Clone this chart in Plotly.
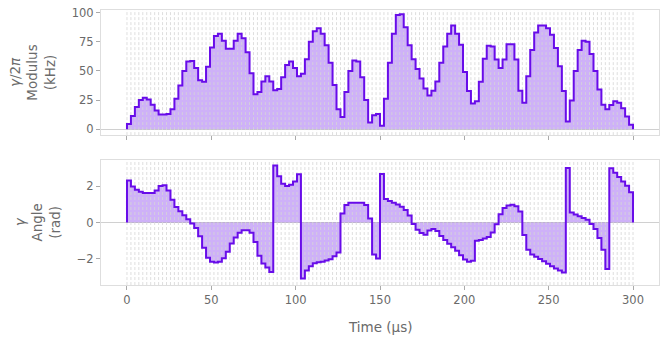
import numpy as np
import plotly.graph_objects as go
from plotly.subplots import make_subplots

duration_us = 300
segment_count = 128

modulus_khz = [
    4.5, 11.4, 19, 25, 27, 25.5, 21, 16, 12.5, 12.5, 13, 17, 26, 37.5, 50, 58,
    58.5, 52.5, 42, 40.6, 53.5, 70, 80, 82, 76, 69, 69, 76, 82, 78, 66, 48,
    30, 32, 41, 45.5, 41, 33.5, 34.5, 44.6, 55, 58, 52.5, 45.5, 47.5, 60, 75, 84,
    86.6, 82, 72, 57, 38, 17, 10.5, 32, 50, 59, 58, 44.6, 25, 5.7, 12, 13,
    3, 26, 57, 82, 98, 98.6, 87.5, 72, 60, 51.7, 43.5, 35, 29, 33, 41, 57,
    71, 82, 89, 82, 72.4, 49, 32.7, 22, 24, 40.6, 60.5, 71.6, 71, 59.7, 52.5, 59.7,
    73, 73, 59.7, 33, 22.7, 45.5, 68, 83, 89, 89, 86.6, 81, 69.6, 54, 32.7, 6.5,
    24.7, 50, 68, 76, 75, 64.5, 50, 34, 21, 17, 20.7, 24, 22.7, 18, 10.8, 3.7,
]

angle_rad = [
    2.31, 1.98, 1.8, 1.69, 1.62, 1.62, 1.62, 1.76, 2.0, 2.05, 1.76, 1.25, 0.85, 0.62, 0.4, 0.18,
    -0.05, -0.3, -0.75, -1.38, -1.93, -2.15, -2.2, -2.15, -1.96, -1.6, -1.15, -0.82, -0.56, -0.42, -0.42, -0.56,
    -1.07, -1.82, -2.25, -2.47, -2.72, 3.13, 2.54, 2.13, 2.01, 2.07, 2.26, 2.65, -3.08, -2.64, -2.4, -2.24,
    -2.18, -2.15, -2.09, -2.02, -1.85, -1.65, 0.5, 0.96, 1.08, 1.08, 1.08, 1.08, 0.96, 0.22, -1.75, -1.98,
    2.66, 1.29, 1.18, 1.09, 0.99, 0.87, 0.69, 0.38, -0.08, -0.4, -0.58, -0.67, -0.44, -0.35, -0.47, -0.74,
    -0.96, -1.16, -1.36, -1.55, -1.8, -2.03, -2.15, -2.1, -1.0, -0.96, -0.88, -0.8, -0.55, -0.1, 0.45, 0.8,
    0.93, 0.98, 0.9, 0.6, -0.69, -1.5, -1.75, -1.88, -2.0, -2.13, -2.27, -2.4, -2.52, -2.63, -2.74, 3.0,
    0.55, 0.44, 0.35, 0.25, 0.15, -0.08, -0.35, -0.85, -1.5, -2.55, 2.98, 2.74, 2.5, 2.25, 2.02, 1.66,
]

x_ticks = [0, 50, 100, 150, 200, 250, 300]
mod_ticks = [0, 25, 50, 75, 100]
ang_ticks = [-2, 0, 2]

LINE = "#680CE9"
FILL = "rgba(104,12,233,0.32)"
GRAY = "#6a6a6a"
FRAME = "#dedede"
GRID = "#d6d6d6"
FONT = "DejaVu Sans"

x_range = [-15.4, 315.4]
mod_range = [-5.1, 102.3]
ang_range = [-3.43, 3.44]

boundaries = np.linspace(0, duration_us, segment_count + 1)


def step_xy(values):
    xs = [0.0] + list(boundaries[:-1]) + [duration_us, duration_us]
    ys = [0.0] + list(values) + [values[-1], 0.0]
    return xs, ys


def grid_xy(yr):
    gx, gy = [], []
    for b in boundaries:
        gx += [b, b, None]
        gy += [yr[0], yr[1], None]
    return gx, gy


fig = make_subplots(rows=2, cols=1, shared_xaxes=False, vertical_spacing=0.0)

for row, vals, yr in ((1, modulus_khz, mod_range), (2, angle_rad, ang_range)):
    xs, ys = step_xy(vals)
    fig.add_trace(go.Scatter(x=xs, y=ys, mode="lines", line=dict(shape="hv", width=0),
                             fill="tozeroy", fillcolor=FILL, hoverinfo="skip", showlegend=False),
                  row=row, col=1)
    gx, gy = grid_xy(yr)
    fig.add_trace(go.Scatter(x=gx, y=gy, mode="lines", line=dict(color=GRID, width=0.8, dash="3px,2px"),
                             hoverinfo="skip", showlegend=False, connectgaps=False),
                  row=row, col=1)
    fig.add_trace(go.Scatter(x=xs, y=ys, mode="lines", line=dict(shape="hv", color=LINE, width=2),
                             hoverinfo="skip", showlegend=False),
                  row=row, col=1)

axis_common = dict(showline=True, linecolor=FRAME, linewidth=1, mirror=True, showgrid=False,
                   ticks="outside", ticklen=4, tickcolor="#aaaaaa",
                   tickfont=dict(family=FONT, size=11.5, color=GRAY))

fig.update_layout(
    width=666, height=341,
    margin=dict(l=101, r=6, t=8, b=56),
    paper_bgcolor="white", plot_bgcolor="white",
    xaxis=dict(axis_common, range=x_range, tickvals=x_ticks, showticklabels=False,
               zeroline=False, anchor="y"),
    xaxis2=dict(axis_common, range=x_range, tickvals=x_ticks, zeroline=False, anchor="y2"),
    yaxis=dict(axis_common, domain=[0.5451, 1.0], range=mod_range, tickvals=mod_ticks,
               zeroline=True, zerolinecolor="#d0d0d0", zerolinewidth=1),
    yaxis2=dict(axis_common, domain=[0.0, 0.4549], range=ang_range, tickvals=ang_ticks,
                zeroline=True, zerolinecolor="#d0d0d0", zerolinewidth=1),
    annotations=[
        dict(text="<i>γ</i>/2<i>π</i><br>Modulus<br>(kHz)", textangle=-90, xref="paper", yref="paper",
             x=(32 - 101) / 559, y=(285 - 71) / 277, xanchor="center", yanchor="middle",
             showarrow=False, font=dict(family=FONT, size=13.5, color=GRAY)),
        dict(text="<i>γ</i><br>Angle<br>(rad)", textangle=-90, xref="paper", yref="paper",
             x=(37 - 101) / 559, y=(285 - 222) / 277, xanchor="center", yanchor="middle",
             showarrow=False, font=dict(family=FONT, size=13.5, color=GRAY)),
        dict(text="Time (µs)", xref="paper", yref="paper", x=0.5, y=(285 - 327) / 277,
             xanchor="center", yanchor="middle", showarrow=False,
             font=dict(family=FONT, size=13.5, color=GRAY)),
    ],
)

fig.write_html("out.html")
